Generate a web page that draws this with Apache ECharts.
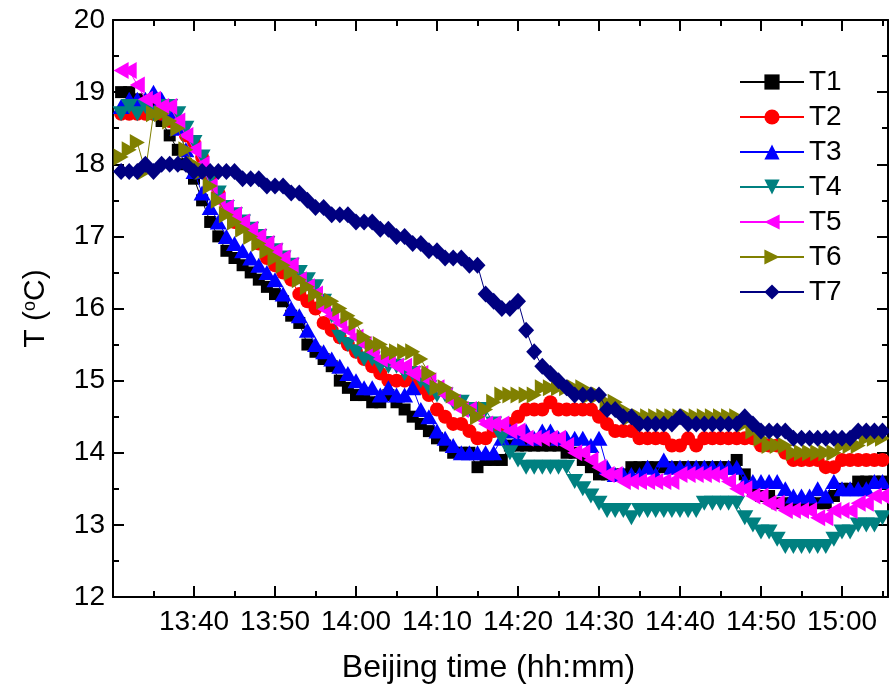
<!DOCTYPE html>
<html>
<head>
<meta charset="utf-8">
<title>Temperature T1–T7</title>
<script src="https://cdn.jsdelivr.net/npm/echarts@6/dist/echarts.min.js"></script>
<style>
  html, body { margin: 0; padding: 0; background: #fff; }
  #chart { width: 889px; height: 690px; }
</style>
</head>
<body>
<div id="chart"></div>
<script>
// Logger readings, one per minute, 13:31 … 15:05 (x values are minutes since midnight)
const firstMinute = 13 * 60 + 31;
const sampleCount = 95;
const minutes = Array.from({ length: sampleCount }, (_, i) => firstMinute + i);

const seriesNames = ['T1', 'T2', 'T3', 'T4', 'T5', 'T6', 'T7'];

const T1 = [
  19.0,19.0,18.9,18.8,18.8,18.6,18.4,18.2,18.0,17.8,
  17.5,17.2,17.0,16.8,16.7,16.6,16.5,16.4,16.3,16.2,
  16.1,15.9,15.8,15.5,15.4,15.3,15.2,15.0,14.9,14.8,
  14.8,14.7,14.7,14.8,14.7,14.6,14.5,14.4,14.3,14.2,
  14.1,14.0,14.0,14.0,13.8,13.9,13.9,13.9,14.1,14.1,
  14.1,14.1,14.1,14.1,14.1,14.0,14.0,13.9,13.8,13.7,
  13.7,13.7,13.7,13.8,13.8,13.8,13.8,13.8,13.8,13.8,
  13.8,13.8,13.8,13.8,13.8,13.8,13.9,13.7,13.5,13.4,
  13.4,13.3,13.3,13.3,13.3,13.3,13.3,13.3,13.4,13.5,
  13.5,13.6,13.6,13.6,13.6
];
const T2 = [
  18.7,18.7,18.7,18.7,18.7,18.7,18.6,18.6,18.4,18.3,
  18.1,17.8,17.6,17.4,17.2,17.2,17.1,16.9,16.7,16.6,
  16.5,16.4,16.2,16.1,16.0,15.8,15.7,15.6,15.5,15.4,
  15.3,15.2,15.1,15.0,15.0,15.0,15.0,14.9,14.8,14.6,
  14.5,14.4,14.4,14.3,14.2,14.2,14.3,14.3,14.4,14.5,
  14.6,14.6,14.6,14.7,14.6,14.6,14.6,14.6,14.6,14.5,
  14.4,14.3,14.3,14.3,14.2,14.2,14.2,14.2,14.1,14.1,
  14.2,14.1,14.2,14.2,14.2,14.2,14.2,14.2,14.2,14.1,
  14.1,14.1,14.0,13.9,13.9,13.9,13.9,13.8,13.8,13.9,
  13.9,13.9,13.9,13.9,13.9
];
const T3 = [
  18.8,18.9,18.9,18.9,19.0,18.9,18.7,18.5,18.2,17.9,
  17.6,17.4,17.2,17.0,16.9,16.8,16.7,16.6,16.5,16.4,
  16.2,16.0,15.9,15.7,15.5,15.4,15.3,15.2,15.1,15.0,
  14.9,14.9,14.8,14.9,14.8,14.8,14.9,14.6,14.5,14.3,
  14.2,14.1,14.0,14.0,14.0,14.0,14.0,14.2,14.3,14.2,
  14.3,14.2,14.3,14.3,14.2,14.2,14.2,14.2,14.1,14.2,
  13.8,13.7,13.7,13.7,13.7,13.8,13.7,13.9,13.8,13.8,
  13.8,13.8,13.8,13.8,13.8,13.8,13.8,13.6,13.6,13.6,
  13.6,13.6,13.5,13.4,13.4,13.4,13.5,13.4,13.6,13.5,
  13.5,13.5,13.5,13.6,13.6
];
const T4 = [
  18.7,18.8,18.7,18.8,18.7,18.8,18.8,18.7,18.5,18.3,
  18.1,17.8,17.6,17.4,17.3,17.2,17.1,17.0,16.9,16.8,
  16.7,16.6,16.5,16.4,16.3,16.1,15.9,15.6,15.5,15.4,
  15.3,15.3,15.2,15.2,15.2,15.1,15.1,15.0,14.9,14.8,
  14.8,14.7,14.7,14.6,14.6,14.6,14.4,14.2,14.0,13.9,
  13.8,13.8,13.8,13.8,13.8,13.8,13.6,13.5,13.4,13.3,
  13.2,13.2,13.2,13.1,13.2,13.2,13.2,13.2,13.2,13.2,
  13.2,13.2,13.3,13.3,13.3,13.3,13.3,13.1,13.0,12.9,
  12.9,12.8,12.7,12.7,12.7,12.7,12.7,12.7,12.8,12.9,
  12.9,13.0,13.0,13.0,13.1
];
const T5 = [
  19.3,19.3,19.1,18.9,18.9,18.8,18.8,18.6,18.4,18.2,
  18.0,17.7,17.5,17.4,17.3,17.2,17.1,17.0,16.9,16.8,
  16.7,16.6,16.4,16.3,16.2,16.0,15.9,15.8,15.7,15.6,
  15.5,15.4,15.3,15.3,15.2,15.2,15.1,15.1,15.0,14.9,
  14.8,14.7,14.6,14.6,14.5,14.4,14.4,14.4,14.3,14.3,
  14.2,14.2,14.2,14.2,14.2,14.1,14.0,14.0,13.9,13.8,
  13.7,13.7,13.6,13.6,13.6,13.6,13.6,13.6,13.6,13.7,
  13.7,13.7,13.7,13.7,13.7,13.6,13.5,13.5,13.4,13.4,
  13.3,13.3,13.2,13.2,13.2,13.2,13.1,13.1,13.2,13.2,
  13.2,13.3,13.3,13.4,13.4
];
const T6 = [
  18.1,18.2,18.3,17.9,18.7,18.7,18.6,18.5,18.2,18.0,
  17.9,17.7,17.5,17.3,17.2,17.1,17.0,16.9,16.8,16.7,
  16.6,16.5,16.4,16.3,16.2,16.1,16.1,16.0,15.9,15.8,
  15.6,15.5,15.5,15.4,15.4,15.4,15.4,15.3,15.1,14.9,
  14.9,14.8,14.7,14.6,14.5,14.6,14.7,14.8,14.8,14.8,
  14.8,14.8,14.9,14.9,14.9,14.9,14.9,14.9,14.8,14.8,
  14.7,14.7,14.6,14.5,14.5,14.5,14.5,14.5,14.5,14.5,
  14.5,14.5,14.5,14.5,14.5,14.5,14.5,14.4,14.3,14.2,
  14.1,14.1,14.1,14.0,14.0,14.0,14.0,14.0,14.0,14.1,
  14.1,14.1,14.2,14.2,14.2
];
const T7 = [
  17.9,17.9,17.9,18.0,17.9,18.0,18.0,18.0,18.0,17.9,
  17.9,17.9,17.9,17.9,17.9,17.8,17.8,17.8,17.7,17.7,
  17.7,17.6,17.6,17.5,17.4,17.4,17.3,17.3,17.3,17.2,
  17.2,17.2,17.1,17.1,17.0,17.0,16.9,16.9,16.8,16.8,
  16.7,16.7,16.7,16.6,16.6,16.2,16.1,16.0,16.0,16.1,
  15.7,15.4,15.2,15.1,15.0,14.9,14.8,14.8,14.8,14.8,
  14.6,14.6,14.5,14.5,14.4,14.4,14.4,14.4,14.4,14.5,
  14.4,14.4,14.4,14.4,14.4,14.4,14.4,14.5,14.4,14.3,
  14.3,14.3,14.3,14.2,14.2,14.2,14.2,14.2,14.2,14.2,
  14.2,14.3,14.3,14.3,14.3
];

// Axis extents (minutes since midnight / °C)
const xMin = 13 * 60 + 30;
const xMax = 15 * 60 + 5.68;
const yMin = 12, yMax = 20;

const FONT = '"Liberation Sans", Arial, Helvetica, sans-serif';

const styles = [
  { color: '#000000', symbol: 'rect',     size: [12, 12], rotate: 0 },
  { color: '#ff0000', symbol: 'circle',   size: [14, 14], rotate: 0 },
  { color: '#0000ff', symbol: 'triangle', size: [17, 15], rotate: 0 },
  { color: '#008080', symbol: 'triangle', size: [17, 15], rotate: 180 },
  { color: '#ff00ff', symbol: 'triangle', size: [17, 15], rotate: 90 },
  { color: '#808000', symbol: 'triangle', size: [17, 15], rotate: -90 },
  { color: '#000080', symbol: 'diamond',  size: [16, 17], rotate: 0 }
];
const values = [T1, T2, T3, T4, T5, T6, T7];

function hhmm(v) {
  const h = Math.floor(v / 60);
  const m = Math.round(v - h * 60);
  return h + ':' + (m < 10 ? '0' + m : m);
}

const frame = {
  axisLine: { show: true, onZero: false, lineStyle: { color: '#000', width: 2 } },
  axisTick: { show: true, inside: true, length: 11, lineStyle: { color: '#000', width: 2 } },
  minorTick: { show: true, splitNumber: 2, length: 6, lineStyle: { color: '#000', width: 2 } },
  splitLine: { show: false },
  minorSplitLine: { show: false }
};

const chart = echarts.init(document.getElementById('chart'), null, { renderer: 'canvas' });

chart.setOption({
  animation: false,
  backgroundColor: '#ffffff',
  grid: { left: 113, right: 1, top: 20, bottom: 93, containLabel: false, outerBoundsMode: 'none' },
  legend: {
    orient: 'vertical',
    left: 734,
    top: 63,
    itemWidth: 64,
    itemHeight: 19,
    itemGap: 7,
    data: seriesNames,
    textStyle: { fontSize: 28, color: '#000', fontFamily: FONT }
  },
  xAxis: [
    Object.assign({
      type: 'value', position: 'bottom', min: xMin, max: xMax, interval: 10,
      axisLabel: {
        showMinLabel: false, showMaxLabel: false, margin: 11,
        fontSize: 28, color: '#000', fontFamily: FONT, formatter: hhmm
      },
      name: 'Beijing time (hh:mm)', nameLocation: 'middle', nameGap: 55,
      nameTextStyle: { fontSize: 32, color: '#000', fontFamily: FONT, padding: [0, 24, 0, 0] }
    }, frame),
    Object.assign({
      type: 'value', position: 'top', min: xMin, max: xMax, interval: 10,
      axisLabel: { show: false }
    }, frame)
  ],
  yAxis: [
    Object.assign({
      type: 'value', position: 'left', min: yMin, max: yMax, interval: 1,
      axisLabel: { margin: 8, fontSize: 28, color: '#000', fontFamily: FONT },
      name: '{n|T (}{s|o}{n|C)}', nameLocation: 'middle', nameRotate: 90, nameGap: 62,
      nameTextStyle: {
        color: '#000', fontFamily: FONT,
        rich: {
          n: { fontSize: 30, color: '#000', fontFamily: FONT },
          s: { fontSize: 18, color: '#000', fontFamily: FONT, verticalAlign: 'top' }
        }
      }
    }, frame),
    Object.assign({
      type: 'value', position: 'right', min: yMin, max: yMax, interval: 1,
      axisLabel: { show: false }
    }, frame)
  ],
  series: seriesNames.map((name, k) => ({
    name,
    type: 'line',
    xAxisIndex: 0,
    yAxisIndex: 0,
    data: values[k].map((v, i) => [minutes[i], v]),
    symbol: styles[k].symbol,
    symbolSize: styles[k].size,
    symbolRotate: styles[k].rotate,
    showAllSymbol: true,
    clip: true,
    z: 2 + k,
    itemStyle: { color: styles[k].color, opacity: 1 },
    lineStyle: { color: styles[k].color, width: 1 },
    emphasis: { disabled: true }
  }))
});
</script>
</body>
</html>
